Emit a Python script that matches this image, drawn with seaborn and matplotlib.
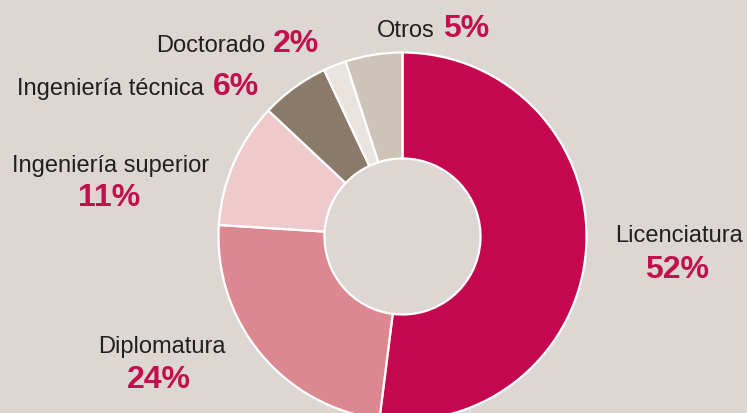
import matplotlib
matplotlib.use("Agg")
import matplotlib.pyplot as plt
import seaborn as sns

# Data
categories = ["Licenciatura", "Diplomatura", "Ingeniería superior",
              "Ingeniería técnica", "Doctorado", "Otros"]
shares = [52, 24, 11, 6, 2, 5]
pct_labels = ["52%", "24%", "11%", "6%", "2%", "5%"]
colors = ["#c5074f", "#dc8891", "#efcacc", "#8b7a69", "#e9e4df", "#cdc3b6"]

bg = "#dcd7d3"
text_dark = "#231f20"
text_red = "#c2104f"

sns.set_style("white", {"axes.facecolor": bg, "figure.facecolor": bg})
plt.rcParams['font.family'] = ['Liberation Sans', 'DejaVu Sans']

W, H = 747, 414
fig = plt.figure(figsize=(W / 100, H / 100), dpi=100)
ax = fig.add_axes([0, 0, 1, 1])

# donut centre and radius in pixels
cx, cy, R = 402.5, 237.5, 184.0

ax.pie(shares, colors=colors, startangle=90, counterclock=False,
       radius=1, wedgeprops=dict(width=0.576, edgecolor="white", linewidth=1.6))
ax.set_xlim(-cx / R, (W - cx) / R)
ax.set_ylim(-(H - cy) / R, cy / R)
ax.set_aspect("equal")
ax.axis("off")


def px(x, y):
    # pixel position (top-left origin) -> data coordinates
    return (x - cx) / R, (cy - y) / R


lab_fs = 17
pct_fs = 23

# two-line labels (name above, percentage below)
stacked = {
    "Licenciatura": ((679, 242), (677, 278)),
    "Diplomatura": ((162, 353), (159, 388)),
    "Ingeniería superior": ((111, 172), (109, 206)),
}
for name, pct in zip(categories, pct_labels):
    if name in stacked:
        (lx, ly), (qx, qy) = stacked[name]
        ax.text(*px(lx, ly), name, ha="center", va="baseline",
                fontsize=lab_fs, color=text_dark)
        ax.text(*px(qx, qy), pct, ha="center", va="baseline",
                fontsize=pct_fs, color=text_red, fontweight="bold")

# one-line labels (name then percentage)
inline = {
    "Ingeniería técnica": (204, 213, 95),
    "Doctorado": (265, 273, 52),
    "Otros": (435, 443, 37),
}
for name, pct in zip(categories, pct_labels):
    if name in inline:
        xe, xp, yb = inline[name]
        ax.text(*px(xe, yb), name, ha="right", va="baseline",
                fontsize=lab_fs, color=text_dark)
        ax.text(*px(xp, yb), pct, ha="left", va="baseline",
                fontsize=pct_fs, color=text_red, fontweight="bold")

fig.savefig("out.png", dpi=100, facecolor=bg)
